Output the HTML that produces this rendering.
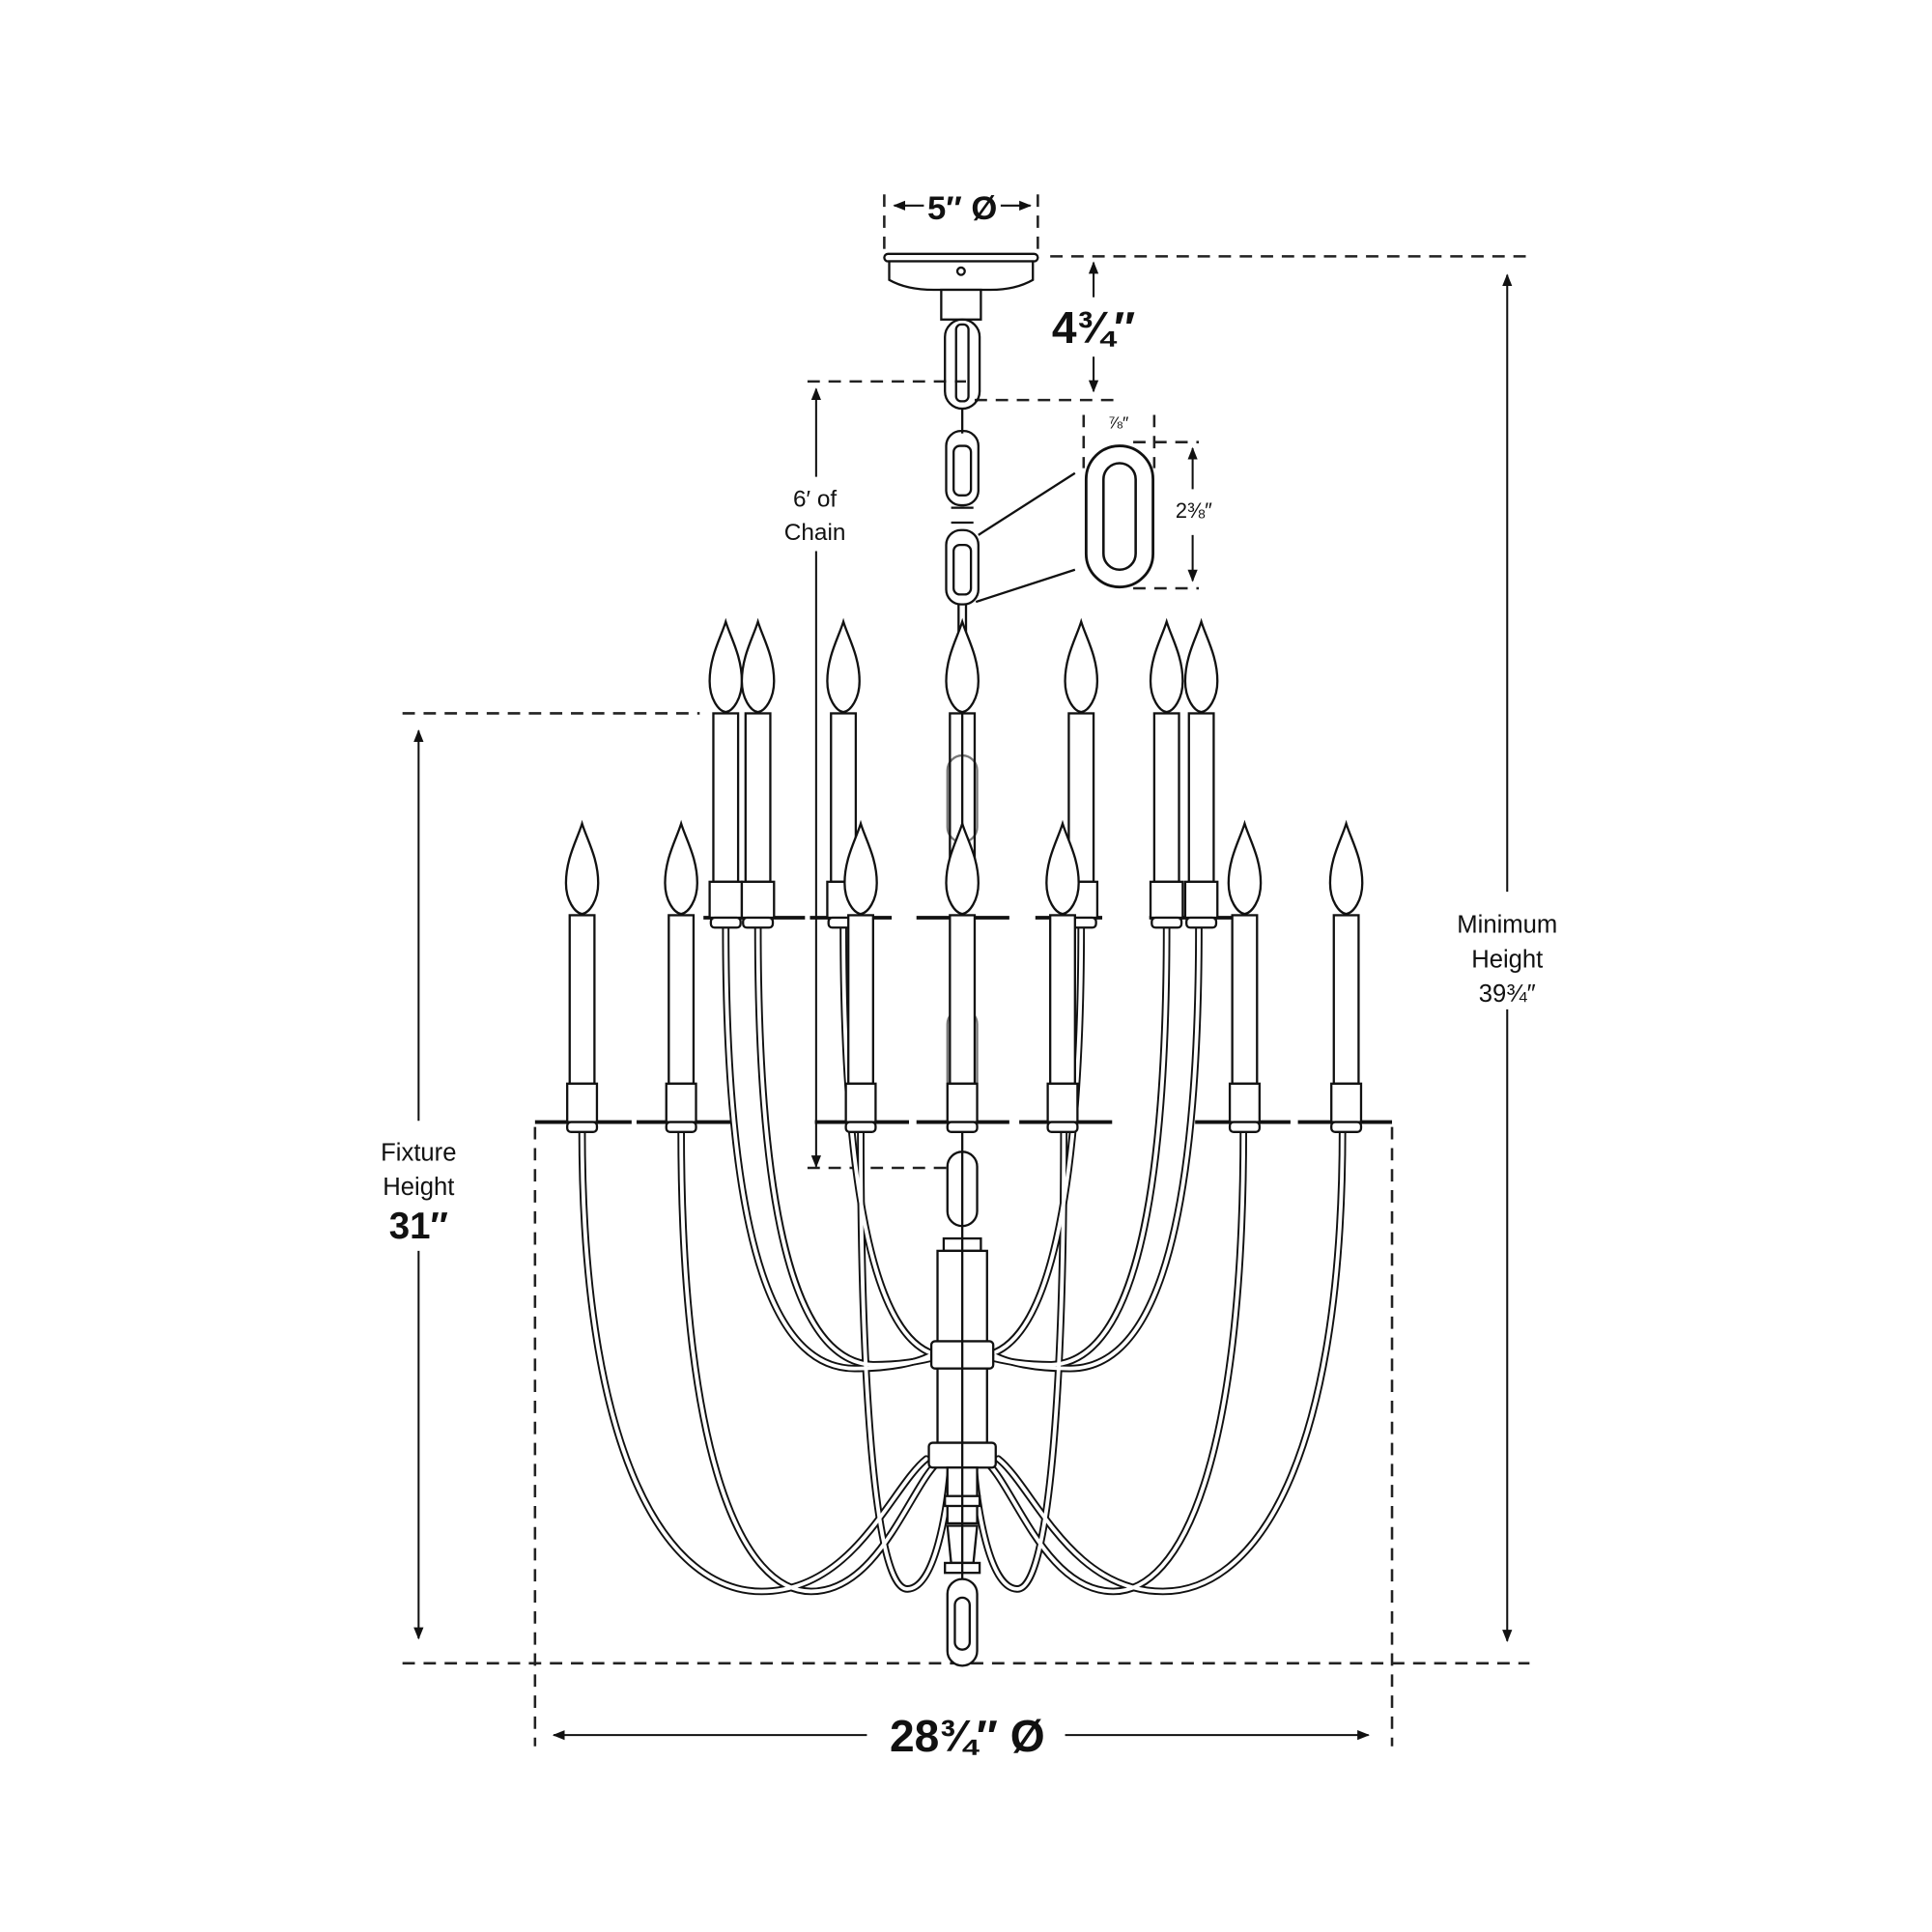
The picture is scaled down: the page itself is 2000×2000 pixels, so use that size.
<!DOCTYPE html>
<html><head><meta charset="utf-8"><style>
html,body{margin:0;padding:0;background:#fff;}
svg{display:block;}
text{font-family:"Liberation Sans","DejaVu Sans",sans-serif;fill:#111;}
</style></head><body>
<svg width="2000" height="2000" viewBox="0 0 1560 1560" xmlns="http://www.w3.org/2000/svg">
<defs>
<marker id="ah" markerWidth="10" markerHeight="10" refX="9" refY="5" orient="auto" markerUnits="userSpaceOnUse"><path d="M0,1 L10,5 L0,9 Z" fill="#111"/></marker>
</defs>
<rect width="1560" height="1560" fill="#fff"/>

<!-- dimension lines -->
<g stroke="#222" stroke-width="2" fill="none" stroke-dasharray="10,7">
<line x1="714" y1="157" x2="714" y2="205"/><line x1="838" y1="157" x2="838" y2="205"/>
<line x1="848" y1="207" x2="1235" y2="207"/>
<line x1="787" y1="323" x2="900" y2="323"/>
<line x1="652" y1="308" x2="780" y2="308"/>
<line x1="875" y1="335" x2="875" y2="378"/><line x1="932" y1="335" x2="932" y2="378"/>
<line x1="915" y1="357" x2="968" y2="357"/><line x1="915" y1="475" x2="968" y2="475"/>
<line x1="325" y1="576" x2="565" y2="576"/>
<line x1="652" y1="943" x2="770" y2="943"/>
<line x1="325" y1="1343" x2="1235" y2="1343"/>
<line x1="432" y1="910" x2="432" y2="1410"/><line x1="1124" y1="910" x2="1124" y2="1410"/>
</g>
<g stroke="#111" stroke-width="1.6" fill="none" marker-end="url(#ah)">
<line x1="746" y1="166" x2="722" y2="166"/><line x1="808" y1="166" x2="832" y2="166"/>
<line x1="883" y1="240" x2="883" y2="212"/><line x1="883" y1="288" x2="883" y2="316"/>
<line x1="963" y1="395" x2="963" y2="362"/><line x1="963" y1="432" x2="963" y2="469"/>
<line x1="659" y1="385" x2="659" y2="314"/><line x1="659" y1="445" x2="659" y2="942"/>
<line x1="338" y1="905" x2="338" y2="590"/><line x1="338" y1="1010" x2="338" y2="1323"/>
<line x1="1217" y1="720" x2="1217" y2="222"/><line x1="1217" y1="815" x2="1217" y2="1325"/>
<line x1="700" y1="1401" x2="447" y2="1401"/><line x1="860" y1="1401" x2="1105" y2="1401"/>
</g>
<text x="777" y="177" font-size="27" font-weight="bold" text-anchor="middle">5″ Ø</text>
<text x="883" y="277" font-size="36" font-weight="bold" text-anchor="middle">4¾″</text>
<text x="903" y="346" font-size="14" text-anchor="middle">⅞″</text>
<text x="964" y="418" font-size="17" text-anchor="middle">2⅜″</text>
<text x="658" y="409" font-size="19" text-anchor="middle">6′ of</text>
<text x="658" y="436" font-size="19" text-anchor="middle">Chain</text>
<text x="338" y="937" font-size="20" text-anchor="middle">Fixture</text>
<text x="338" y="965" font-size="20" text-anchor="middle">Height</text>
<text x="338" y="1000" font-size="30" font-weight="bold" text-anchor="middle">31″</text>
<text x="1217" y="753" font-size="20" text-anchor="middle">Minimum</text>
<text x="1217" y="781" font-size="20" text-anchor="middle">Height</text>
<text x="1217" y="809" font-size="20" text-anchor="middle">39¾″</text>
<text x="781" y="1414" font-size="36" font-weight="bold" text-anchor="middle">28¾″ Ø</text>

<!-- canopy -->
<g stroke="#111" stroke-width="1.8" fill="#fff">
<rect x="714" y="205" width="124" height="6" rx="3"/>
<path d="M718,211 L834,211 L834,226 Q820,234 800,234 L754,234 Q732,234 718,226 Z"/>
<rect x="760" y="234" width="32" height="24"/>
<circle cx="776" cy="219" r="3"/>
</g>

<!-- chain -->
<g stroke="#111" stroke-width="1.8" fill="none">
<rect x="763" y="258" width="28" height="72" rx="14"/>
<rect x="772" y="262" width="10" height="62" rx="4"/>
<line x1="777" y1="330" x2="777" y2="350"/>
<rect x="764" y="348" width="26" height="60" rx="12"/>
<rect x="770" y="360" width="14" height="40" rx="5"/>
<line x1="768" y1="410" x2="786" y2="410"/><line x1="768" y1="422" x2="786" y2="422"/>
<rect x="764" y="428" width="26" height="60" rx="12"/>
<rect x="770" y="440" width="14" height="40" rx="5"/>
<line x1="774" y1="488" x2="774" y2="515"/><line x1="780" y1="488" x2="780" y2="515"/>
<rect x="765" y="610" width="24" height="70" rx="12" stroke="#777"/>
<rect x="765" y="815" width="24" height="70" rx="12" stroke="#777"/>
<rect x="765" y="930" width="24" height="60" rx="12"/>
<line x1="777" y1="515" x2="777" y2="1000"/>
<rect x="877" y="360" width="54" height="114" rx="27" stroke-width="2.2"/>
<rect x="891" y="374" width="26" height="86" rx="13" stroke-width="2"/>
<line x1="868" y1="382" x2="790" y2="432"/>
<line x1="868" y1="460" x2="788" y2="486"/>
</g>

<!-- arms -->
<g id="arms" fill="none" stroke-linecap="round">
<g stroke="#111" stroke-width="6">
<path d="M470,912 C470,1180 540,1285 615,1285 C690,1285 720,1200 748,1178"/>
<path d="M550,912 C550,1180 600,1285 655,1285 C710,1285 735,1200 758,1180"/>
<path d="M695,912 C695,1100 705,1285 733,1283 C755,1282 765,1220 768,1180"/>
<path d="M586,748 C586,1020 630,1105 690,1105 C720,1105 740,1100 750,1095"/>
<path d="M612,748 C612,1010 650,1100 705,1102 C730,1102 748,1098 758,1095"/>
<path d="M681,748 C681,930 700,1095 765,1095"/>
</g>
<g stroke="#fff" stroke-width="3">
<path d="M470,912 C470,1180 540,1285 615,1285 C690,1285 720,1200 748,1178"/>
<path d="M550,912 C550,1180 600,1285 655,1285 C710,1285 735,1200 758,1180"/>
<path d="M695,912 C695,1100 705,1285 733,1283 C755,1282 765,1220 768,1180"/>
<path d="M586,748 C586,1020 630,1105 690,1105 C720,1105 740,1100 750,1095"/>
<path d="M612,748 C612,1010 650,1100 705,1102 C730,1102 748,1098 758,1095"/>
<path d="M681,748 C681,930 700,1095 765,1095"/>
</g>
</g>
<use href="#arms" transform="translate(1554,0) scale(-1,1)"/>

<!-- center column -->
<g stroke="#111" stroke-width="1.8" fill="#fff">
<rect x="762" y="1000" width="30" height="10"/>
<rect x="757" y="1010" width="40" height="78"/>
<rect x="752" y="1083" width="50" height="22" rx="3"/>
<rect x="757" y="1105" width="40" height="60"/>
<rect x="750" y="1165" width="54" height="20" rx="3"/>
<rect x="765" y="1185" width="24" height="45"/>
<rect x="763" y="1208" width="28" height="8"/>
<path d="M765,1232 L789,1232 L786,1262 L768,1262 Z"/>
<rect x="763" y="1262" width="28" height="8"/>
<rect x="765" y="1275" width="24" height="70" rx="12"/>
<rect x="771" y="1290" width="12" height="42" rx="6"/>
<line x1="777" y1="1000" x2="777" y2="1275"/>
</g>

<!-- bobeche lines -->
<g stroke="#111" stroke-width="3">
<line x1="432" y1="906" x2="510" y2="906"/><line x1="514" y1="906" x2="590" y2="906"/>
<line x1="658" y1="906" x2="734" y2="906"/><line x1="740" y1="906" x2="815" y2="906"/>
<line x1="823" y1="906" x2="898" y2="906"/><line x1="965" y1="906" x2="1042" y2="906"/>
<line x1="1048" y1="906" x2="1124" y2="906"/>
<line x1="568" y1="741" x2="650" y2="741"/><line x1="654" y1="741" x2="720" y2="741"/>
<line x1="740" y1="741" x2="815" y2="741"/><line x1="836" y1="741" x2="890" y2="741"/>
<line x1="928" y1="741" x2="1000" y2="741"/>
</g>

<!-- candles -->
<g stroke="#111" stroke-width="1.8" fill="#fff">
<g transform="translate(586,0)"><path d="M0,502 C4,515 13,530 13,550 C13,564 6,574 0,575 C-6,574 -13,564 -13,550 C-13,530 -4,515 0,502 Z"/><rect x="-10" y="576" width="20" height="136"/><rect x="-13" y="712" width="26" height="29"/><rect x="-12" y="741" width="24" height="8" rx="3"/></g>
<g transform="translate(612,0)"><path d="M0,502 C4,515 13,530 13,550 C13,564 6,574 0,575 C-6,574 -13,564 -13,550 C-13,530 -4,515 0,502 Z"/><rect x="-10" y="576" width="20" height="136"/><rect x="-13" y="712" width="26" height="29"/><rect x="-12" y="741" width="24" height="8" rx="3"/></g>
<g transform="translate(681,0)"><path d="M0,502 C4,515 13,530 13,550 C13,564 6,574 0,575 C-6,574 -13,564 -13,550 C-13,530 -4,515 0,502 Z"/><rect x="-10" y="576" width="20" height="136"/><rect x="-13" y="712" width="26" height="29"/><rect x="-12" y="741" width="24" height="8" rx="3"/></g>
<g transform="translate(777,0)"><path d="M0,502 C4,515 13,530 13,550 C13,564 6,574 0,575 C-6,574 -13,564 -13,550 C-13,530 -4,515 0,502 Z"/><rect x="-10" y="576" width="20" height="136" fill="none"/></g>
<g transform="translate(873,0)"><path d="M0,502 C4,515 13,530 13,550 C13,564 6,574 0,575 C-6,574 -13,564 -13,550 C-13,530 -4,515 0,502 Z"/><rect x="-10" y="576" width="20" height="136"/><rect x="-13" y="712" width="26" height="29"/><rect x="-12" y="741" width="24" height="8" rx="3"/></g>
<g transform="translate(942,0)"><path d="M0,502 C4,515 13,530 13,550 C13,564 6,574 0,575 C-6,574 -13,564 -13,550 C-13,530 -4,515 0,502 Z"/><rect x="-10" y="576" width="20" height="136"/><rect x="-13" y="712" width="26" height="29"/><rect x="-12" y="741" width="24" height="8" rx="3"/></g>
<g transform="translate(970,0)"><path d="M0,502 C4,515 13,530 13,550 C13,564 6,574 0,575 C-6,574 -13,564 -13,550 C-13,530 -4,515 0,502 Z"/><rect x="-10" y="576" width="20" height="136"/><rect x="-13" y="712" width="26" height="29"/><rect x="-12" y="741" width="24" height="8" rx="3"/></g>
<g transform="translate(470,163)"><path d="M0,502 C4,515 13,530 13,550 C13,564 6,574 0,575 C-6,574 -13,564 -13,550 C-13,530 -4,515 0,502 Z"/><rect x="-10" y="576" width="20" height="136"/><rect x="-12" y="712" width="24" height="31"/><rect x="-12" y="743" width="24" height="8" rx="3"/></g>
<g transform="translate(550,163)"><path d="M0,502 C4,515 13,530 13,550 C13,564 6,574 0,575 C-6,574 -13,564 -13,550 C-13,530 -4,515 0,502 Z"/><rect x="-10" y="576" width="20" height="136"/><rect x="-12" y="712" width="24" height="31"/><rect x="-12" y="743" width="24" height="8" rx="3"/></g>
<g transform="translate(695,163)"><path d="M0,502 C4,515 13,530 13,550 C13,564 6,574 0,575 C-6,574 -13,564 -13,550 C-13,530 -4,515 0,502 Z"/><rect x="-10" y="576" width="20" height="136"/><rect x="-12" y="712" width="24" height="31"/><rect x="-12" y="743" width="24" height="8" rx="3"/></g>
<g transform="translate(777,163)"><path d="M0,502 C4,515 13,530 13,550 C13,564 6,574 0,575 C-6,574 -13,564 -13,550 C-13,530 -4,515 0,502 Z"/><rect x="-10" y="576" width="20" height="136"/><rect x="-12" y="712" width="24" height="31"/><rect x="-12" y="743" width="24" height="8" rx="3"/></g>
<g transform="translate(858,163)"><path d="M0,502 C4,515 13,530 13,550 C13,564 6,574 0,575 C-6,574 -13,564 -13,550 C-13,530 -4,515 0,502 Z"/><rect x="-10" y="576" width="20" height="136"/><rect x="-12" y="712" width="24" height="31"/><rect x="-12" y="743" width="24" height="8" rx="3"/></g>
<g transform="translate(1005,163)"><path d="M0,502 C4,515 13,530 13,550 C13,564 6,574 0,575 C-6,574 -13,564 -13,550 C-13,530 -4,515 0,502 Z"/><rect x="-10" y="576" width="20" height="136"/><rect x="-12" y="712" width="24" height="31"/><rect x="-12" y="743" width="24" height="8" rx="3"/></g>
<g transform="translate(1087,163)"><path d="M0,502 C4,515 13,530 13,550 C13,564 6,574 0,575 C-6,574 -13,564 -13,550 C-13,530 -4,515 0,502 Z"/><rect x="-10" y="576" width="20" height="136"/><rect x="-12" y="712" width="24" height="31"/><rect x="-12" y="743" width="24" height="8" rx="3"/></g>
</g>
</svg>
</body></html>
